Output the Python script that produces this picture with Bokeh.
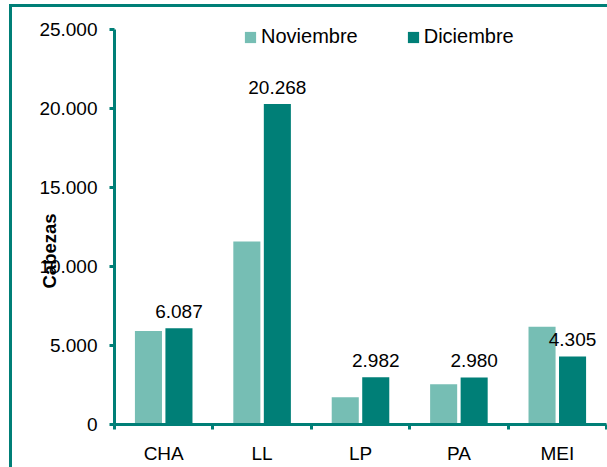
from bokeh.plotting import figure
from bokeh.models import (FactorRange, Range1d, LinearAxis, CategoricalAxis, FixedTicker,
                          CustomJSTickFormatter, ColumnDataSource, LabelSet,
                          InlineStyleSheet)
from bokeh.transform import dodge
from bokeh.embed import file_html
from bokeh.resources import INLINE
from bokeh.core.properties import value

# ---- data ----
categories = ["CHA", "LL", "LP", "PA", "MEI"]
noviembre = [5920, 11570, 1720, 2545, 6190]
diciembre = [6087, 20268, 2982, 2980, 4305]
y_ticks = [0, 5000, 10000, 15000, 20000, 25000]
series_names = ["Noviembre", "Diciembre"]
y_title = "Cabezas"


def fmt(v):
    return f"{v:,}".replace(",", ".")


src = ColumnDataSource(dict(cat=categories, nov=noviembre, dic=diciembre,
                            dic_lbl=[fmt(v) for v in diciembre]))

TEAL = "#007F77"
LIGHT = "#76BEB4"
FONT = "Liberation Sans"

p = figure(x_range=FactorRange(*categories), y_range=Range1d(0, 26500),
           width=607, height=467, output_backend="svg", toolbar_location=None,
           x_axis_location=None, y_axis_location=None,
           min_border_left=114, min_border_right=1, min_border_top=5, min_border_bottom=43)
p.outline_line_color = None
p.background_fill_color = "white"
p.border_fill_color = "white"
for g in p.grid:
    g.visible = False

# outer frame lines (left and top) drawn by CSS on the figure element
p.stylesheets = [InlineStyleSheet(css="""
:host { position: relative; }
:host::after {
  content: ""; position: absolute; left: 9px; top: 4px; right: 0; bottom: 0;
  border-left: 3px solid #007F77; border-top: 3px solid #007F77;
  pointer-events: none; z-index: 10;
}
""")]

# y axis (title overlaps the tick labels, sitting below the middle, as in the original)
yaxis = LinearAxis(ticker=FixedTicker(ticks=y_ticks, minor_ticks=[]),
                   bounds=(y_ticks[0], y_ticks[-1]),
                   formatter=CustomJSTickFormatter(
                       code=r"return tick.toString().replace(/\B(?=(\d{3})+(?!\d))/g, '.');"))
yaxis.axis_line_color = TEAL
yaxis.axis_line_width = 3
yaxis.major_tick_line_color = TEAL
yaxis.major_tick_line_width = 3
yaxis.major_tick_in = 0
yaxis.major_tick_out = 5
yaxis.minor_tick_line_color = None
yaxis.major_label_standoff = 12
yaxis.major_label_text_font = FONT
yaxis.major_label_text_font_size = "19px"
yaxis.major_label_text_color = "#000000"
yaxis.axis_label = y_title + "\u00a0" * 14
yaxis.axis_label_standoff = -24
yaxis.axis_label_text_font = FONT
yaxis.axis_label_text_font_size = "18.5px"
yaxis.axis_label_text_font_style = "bold"
yaxis.axis_label_text_color = "#000000"
p.add_layout(yaxis, "left")

# x axis: ticks on the category boundaries (synthetic coordinates 0..n) + category labels
bax = LinearAxis(ticker=FixedTicker(ticks=list(range(len(categories) + 1)), minor_ticks=[]),
                 formatter=CustomJSTickFormatter(code="return '';"))
bax.axis_line_color = TEAL
bax.axis_line_width = 3
bax.major_tick_line_color = TEAL
bax.major_tick_line_width = 3
bax.major_tick_in = 0
bax.major_tick_out = 5
bax.minor_tick_line_color = None
bax.major_label_standoff = 0
bax.major_label_text_font_size = "1px"
p.add_layout(bax, "below")

cax = CategoricalAxis()
cax.axis_line_color = None
cax.major_tick_line_color = None
cax.major_tick_in = 0
cax.major_tick_out = 0
cax.minor_tick_line_color = None
cax.major_label_standoff = 13
cax.major_label_text_font = FONT
cax.major_label_text_font_size = "19px"
cax.major_label_text_color = "#000000"
p.add_layout(cax, "below")

# bars
p.vbar(x=dodge("cat", -0.155, range=p.x_range), top="nov", width=0.275, source=src,
       fill_color=LIGHT, line_color=None, legend_label=series_names[0])
p.vbar(x=dodge("cat", 0.155, range=p.x_range), top="dic", width=0.275, source=src,
       fill_color=TEAL, line_color=None, legend_label=series_names[1])

# value labels
p.add_layout(LabelSet(x=dodge("cat", 0.155, range=p.x_range), y="dic", text="dic_lbl",
                      source=src, text_align="center", text_baseline="alphabetic",
                      y_offset=10, text_font=value(FONT), text_font_size=value("19px"),
                      text_color="#000000"))

# legend
leg = p.legend[0]
leg.orientation = "horizontal"
leg.location = (129, 376)
leg.border_line_color = None
leg.background_fill_alpha = 0
leg.padding = 0
leg.margin = 0
leg.spacing = 48
leg.glyph_width = 14
leg.glyph_height = 14
leg.label_standoff = 4
leg.label_text_font = FONT
leg.label_text_font_size = "20px"
leg.label_text_color = "#000000"

open("out.html", "w").write(file_html(p, INLINE))
